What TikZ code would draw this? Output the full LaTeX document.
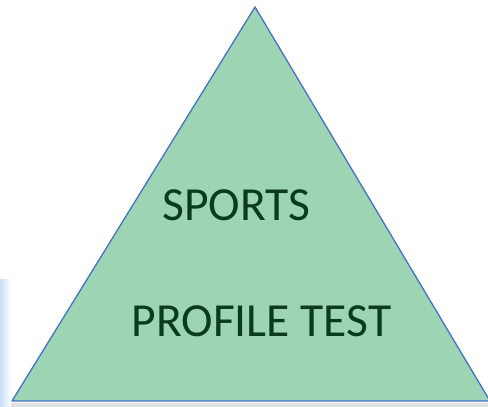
\documentclass[tikz,border=0pt]{standalone}
\usepackage{fontspec}
\setmainfont{Carlito}
\usetikzlibrary{positioning}
\definecolor{pyrfill}{HTML}{9DD4B4}
\definecolor{pyrline}{HTML}{4472C4}
\definecolor{pyrtext}{HTML}{0B3B1E}
\definecolor{stripblue}{HTML}{C8E0F5}

\begin{document}
\begin{tikzpicture}[x=1pt, y=1pt,
    pyrlabel/.style={text=pyrtext, font=\fontsize{47.5}{52}\selectfont, anchor=base}]
  \useasboundingbox (0,0) rectangle (488,407);
  \clip (0,0) rectangle (488,407);

  % Edge strips behind the triangle
  \fill[black!12] (0,0) rectangle (488,4);
  \shade[left color=stripblue, right color=white] (0,0) rectangle (11,127);

  % The pyramid
  \coordinate (top) at (255,400);
  \coordinate (left) at (12,6);
  \coordinate (right) at (490,6);
  \draw[pyrline, fill=pyrfill, line width=1.3pt, line join=round]
    (left) -- (top) -- (right) -- cycle;

  % Labels inside
  \node[pyrlabel] (sports) at (236.5,186) {SPORTS};
  \node[pyrlabel] (profile) at (261.5,70) {PROFILE TEST};
\end{tikzpicture}
\end{document}
